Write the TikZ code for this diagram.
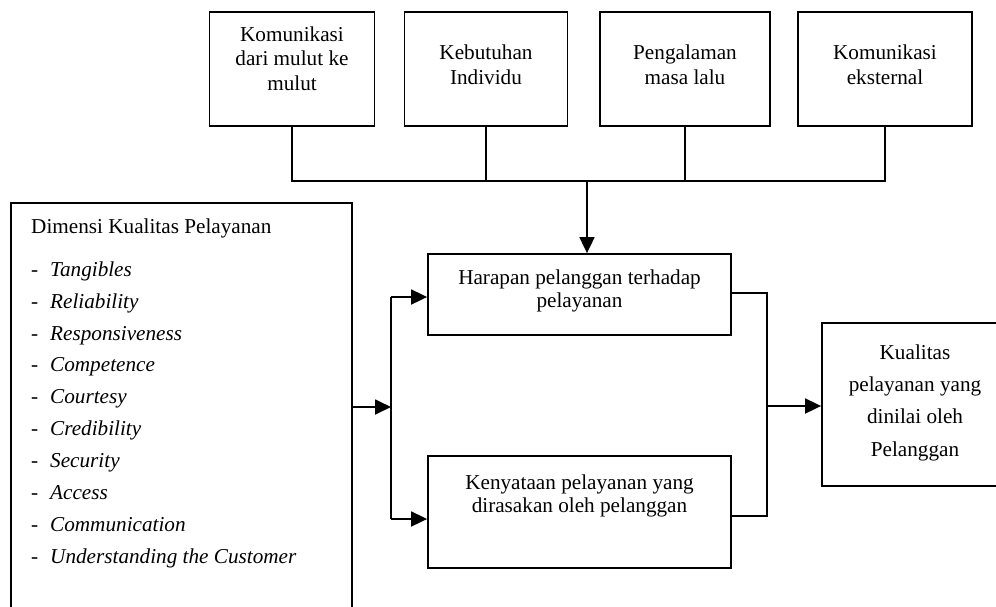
\documentclass[tikz,border=0pt]{standalone}
\usepackage{fontspec}
\setmainfont{Liberation Serif}
\usetikzlibrary{arrows.meta}
\tikzset{
  box/.style={draw, line width=1.8pt, inner sep=0pt},
  conn/.style={line width=1.8pt},
  arr/.style={line width=1.8pt, -{Triangle[length=16pt,width=15pt]}},
  txtA/.style={inner sep=0pt, align=center, anchor=north, font=\fontsize{21.2}{24.5}\selectfont},
  txtB/.style={inner sep=0pt, align=center, anchor=north, font=\fontsize{21.2}{23.5}\selectfont},
  txtC/.style={inner sep=0pt, align=center, anchor=north, font=\fontsize{21.2}{32.3}\selectfont},
  txtL/.style={inner sep=0pt, align=left, anchor=north west, font=\fontsize{21.2}{31.9}\selectfont},
  txtH/.style={inner sep=0pt, align=left, anchor=north west, font=\fontsize{21.2}{24.5}\selectfont},
}
\newcommand{\itm}[1]{\strut\makebox[19pt][l]{-}\textit{#1}}
\begin{document}
\begin{tikzpicture}[x=1pt,y=-1pt]
\useasboundingbox (0,0) rectangle (996,606);
\clip (0,0) rectangle (996,606);
\fill[white] (0,0) rectangle (996,606);

% top boxes
\node[box, minimum width=165pt, minimum height=114pt] (t1) at (292,69) {};
\node[box, minimum width=163pt, minimum height=114pt] (t2) at (486,69) {};
\node[box, minimum width=170pt, minimum height=114pt] (t3) at (685,69) {};
\node[box, minimum width=174pt, minimum height=114pt] (t4) at (885,69) {};
\node[txtA] (t1t) at (292,23.85) {\strut Komunikasi\\\strut dari mulut ke\\\strut mulut};
\node[txtA] (t2t) at (486,42.35) {\strut Kebutuhan\\\strut Individu};
\node[txtA] (t3t) at (685,42.35) {\strut Pengalaman\\\strut masa lalu};
\node[txtA] (t4t) at (885,42.35) {\strut Komunikasi\\\strut eksternal};

% left box
\node[box, minimum width=341pt, minimum height=437pt] (L) at (181.5,421.5) {};
\node[txtH] (Lh) at (31,215.85) {\strut Dimensi Kualitas Pelayanan};
\node[txtL] (Ll) at (31,253.67) {\itm{Tangibles}\\\itm{Reliability}\\\itm{Responsiveness}\\\itm{Competence}\\\itm{Courtesy}\\\itm{Credibility}\\\itm{Security}\\\itm{Access}\\\itm{Communication}\\\itm{Understanding the Customer}};

% middle boxes
\node[box, minimum width=303pt, minimum height=81pt] (H) at (579.5,294.5) {};
\node[txtB] (Ht) at (579.5,267.55) {\strut Harapan pelanggan terhadap\\\strut pelayanan};
\node[box, minimum width=303pt, minimum height=112pt] (K) at (579.5,512) {};
\node[txtB] (Kt) at (579.5,472.55) {\strut Kenyataan pelayanan yang\\\strut dirasakan oleh pelanggan};

% right box
\node[box, minimum width=186pt, minimum height=163pt] (Q) at (915,404.5) {};
\node[txtC] (Qt) at (915,336.4) {\strut Kualitas\\\strut pelayanan yang\\\strut dinilai oleh\\\strut Pelanggan};

% top bus
\coordinate (busL) at (292,181);
\coordinate (busR) at (885,181);
\coordinate (busM) at (587,181);
\draw[conn] (t1.south) -- (busL) -- (busR) -- (t4.south);
\draw[conn] (t2.south) -- (t2.south |- busL);
\draw[conn] (t3.south) -- (t3.south |- busL);
\draw[arr] (busM) -- (busM |- H.north);

% left branch
\coordinate (br) at (391,407);
\coordinate (brT) at (391,297);
\coordinate (brB) at (391,519);
\draw[arr] (L.east |- br) -- (br);
\draw[conn] (brT) -- (brB);
\draw[arr] (brT) -- (brT -| H.west);
\draw[arr] (brB) -- (brB -| K.west);

% right branch
\coordinate (rT) at (767,293);
\coordinate (rB) at (767,516);
\coordinate (rc) at (767,406);
\draw[conn] (rT -| H.east) -- (rT) -- (rB) -- (rB -| K.east);
\draw[arr] (rc) -- (rc -| Q.west);
\end{tikzpicture}
\end{document}
